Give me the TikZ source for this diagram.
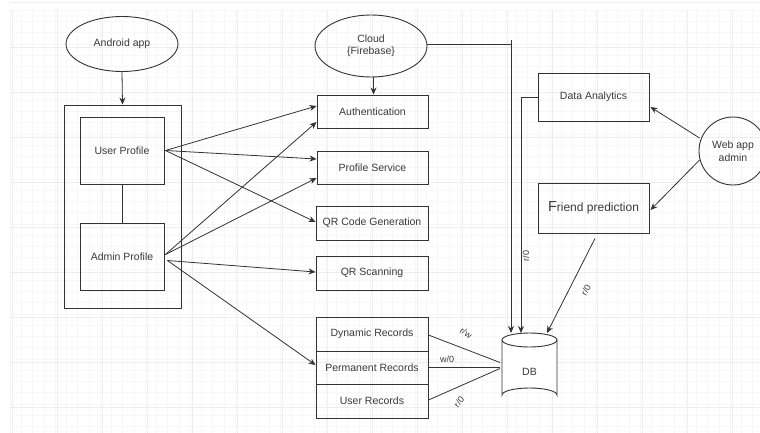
\documentclass[tikz,border=0pt]{standalone}
\usepackage{fontspec}
\setmainfont{Liberation Sans}
\usetikzlibrary{shapes.geometric,arrows.meta,calc}
\definecolor{ink}{HTML}{333333}
\definecolor{txt}{HTML}{3A3A3A}
\begin{document}
\begin{tikzpicture}[x=1pt,y=-1pt,
  box/.style={draw=ink, line width=0.9pt, rectangle, inner sep=0pt, text=txt, font=\fontsize{10.5}{12}\selectfont},
  oval/.style={draw=ink, line width=0.9pt, ellipse, inner sep=0pt, text=txt, font=\fontsize{10.5}{12.5}\selectfont, align=center},
  link/.style={draw=ink, line width=0.8pt},
  arr/.style={link, -{Stealth[length=7pt,width=6pt]}},
  lbl/.style={text=txt, font=\fontsize{9}{10}\selectfont, inner sep=1pt}]
\useasboundingbox (0,0) rectangle (760,433);
\fill[white] (0,0) rectangle (760,433);
% grid
\foreach \i in {0,...,66} {\draw[gray!6, line width=0.4pt] (10+11.25*\i,10) -- (10+11.25*\i,433);}
\foreach \j in {0,...,37} {\draw[gray!6, line width=0.4pt] (10,10+11.25*\j) -- (760,10+11.25*\j);}
\foreach \i in {0,...,16} {\draw[gray!14, line width=0.5pt] (12+45*\i,10) -- (12+45*\i,433);}
\foreach \j in {0,...,9} {\draw[gray!14, line width=0.5pt] (10,2+45*\j) -- (760,2+45*\j);}

% nodes
\node[oval, minimum width=112, minimum height=55] (android) at (122,44) {Android app};
\node[box, minimum width=117, minimum height=203] (outer) at (122.5,206.5) {};
\node[box, minimum width=84, minimum height=67] (user) at (122,150.5) {User Profile};
\node[box, minimum width=84, minimum height=67] (admin) at (122,256.5) {Admin Profile};

\node[oval, minimum width=112, minimum height=62] (cloud) at (371,46) {Cloud\\\{Firebase\}};
\node[box, minimum width=111, minimum height=33] (auth) at (372.5,111.5) {Authentication};
\node[box, minimum width=111, minimum height=33] (prof) at (372.5,167.5) {Profile Service};
\node[box, minimum width=112, minimum height=34] (qrgen) at (372,223) {QR Code Generation};
\node[box, minimum width=112, minimum height=34] (qrscan) at (372,273) {QR Scanning};
\node[box, minimum width=112, minimum height=34] (dyn) at (372,334) {Dynamic Records};
\node[box, minimum width=112, minimum height=33] (perm) at (372,367.5) {Permanent Records};
\node[box, minimum width=112, minimum height=34] (urec) at (372,401) {User Records};

\node[box, minimum width=111, minimum height=48] (da) at (593.5,97) {Data Analytics};
\node[box, minimum width=111, minimum height=50, font=\fontsize{12}{14}\selectfont] (fp) at (593.5,208) {{\fontsize{14.5}{14}\selectfont F}riend prediction};
\node[draw=ink, line width=0.9pt, circle, minimum size=68, inner sep=0pt, align=center, text=txt, font=\fontsize{10.5}{12.5}\selectfont] (web) at (733,151) {Web app\\admin};

% DB cylinder
\coordinate (db) at (529.5,367.5);
\path (db) ++(-27.5,-34.5) coordinate (dbnw) (db) ++(0,-34.5) coordinate (dbn) (db) ++(-27.5,0) coordinate (dbw);
\draw[ink, line width=0.9pt, fill=white] (dbnw) ++(0,7) -- ++(0,55)
  arc[start angle=180, end angle=360, x radius=27.5, y radius=7] -- ++(0,-55)
  arc[start angle=0, end angle=-180, x radius=27.5, y radius=7] -- cycle;
\draw[ink, line width=0.9pt] (dbnw) ++(0,7) arc[start angle=180, end angle=360, x radius=27.5, y radius=-7];
\node[text=txt, font=\fontsize{10.5}{12}\selectfont] (dbt) at ($(db)+(0,4)$) {DB};

% connectors
\draw[arr] (android.south) -- (outer.north);
\draw[link] (user.south) -- (admin.north);
\draw[arr] (cloud.south -| auth.north) ++(1,0) coordinate (cs) -- (cs |- auth.north);

\coordinate (up) at ($(user.east)+(1,0)$);
\coordinate (ap) at ($(admin.east)+(1,-2)$);
\coordinate (ap2) at ($(admin.east)+(3,4)$);
\draw[arr] (up) -- ($(auth.west)+(0,-5.5)$);
\draw[arr] (up) -- ($(prof.west)+(0,-8.5)$);
\draw[arr] (up) -- ($(qrgen.west)+(0,-1)$);
\draw[arr] (ap) -- ($(auth.west)+(0,10.5)$);
\draw[arr] (ap) -- ($(prof.west)+(0,10.5)$);
\draw[arr] (ap2) -- ($(qrscan.west)+(0,-1)$);
\draw[arr] (ap2) -- ($(perm.west)+(0,-2.5)$);

\coordinate (cl) at ($(cloud.east)+(0,-2)$);
\draw[arr] (cl) -- ($(cl -| dbnw)+(9,0)$) coordinate (cc) -- (cc |- dbn);
\draw[link] (cc) -- ++(0,-4);
\draw[arr] (da.west) -- ($(da.west -| dbnw)+(19,0)$) coordinate (dc) -- (dc |- dbn);
\draw[arr] ($(web.west)+(1,-13)$) -- ($(da.east)+(1,10)$);
\draw[arr] ($(web.west)+(1,9)$) -- ($(fp.east)+(1,2)$);
\draw[arr] ($(fp.south)+(1.5,5)$) -- ($(dbn)+(17.5,0)$);

\draw[link] ($(dyn.east)+(0,1)$) -- ($(dbw)+(-2,-5)$);
\draw[link] (perm.east) -- ($(dbw)+(-2,0)$);
\draw[link] ($(urec.east)+(0,-1)$) -- ($(dbw)+(-2,1)$);

% labels
\node[lbl, rotate=-35] (l1) at (466,333) {r/w};
\node[lbl] (l2) at (447,359) {w/0};
\node[lbl, rotate=50] (l3) at (459,402) {r/0};
\node[lbl, rotate=90] (l4) at (526,256) {r/0};
\node[lbl, rotate=60] (l5) at (586,290) {r/0};
\end{tikzpicture}
\end{document}
